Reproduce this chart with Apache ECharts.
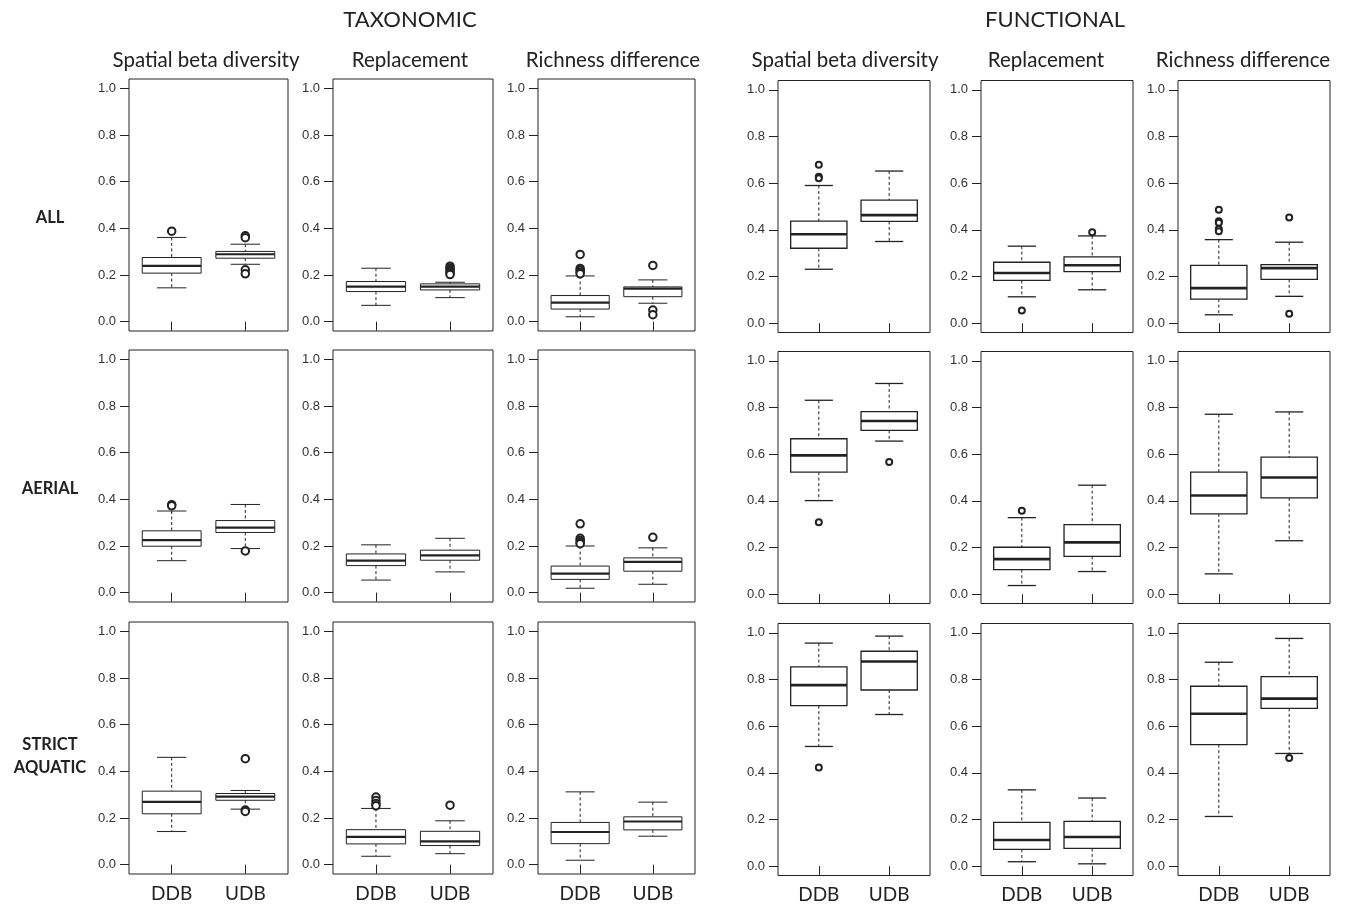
<!DOCTYPE html>
<html><head><meta charset="utf-8">
<script src="https://cdn.jsdelivr.net/npm/echarts@6/dist/echarts.min.js"></script>
<style>html,body{margin:0;padding:0;background:#fff}#c{width:1346px;height:913px}</style>
</head><body><div id="c"></div>
<script>
const categories = ['DDB', 'UDB'];
const yTicks = [0, 0.2, 0.4, 0.6, 0.8, 1.0];
const groupTitles = ['TAXONOMIC', 'FUNCTIONAL'];
const panelTitles = ['Spatial beta diversity', 'Replacement', 'Richness difference'];
const rowLabels = ['ALL', 'AERIAL', 'STRICT\nAQUATIC'];

// boxes: [lower whisker, Q1, median, Q3, upper whisker] for DDB, then UDB
const allTaxBeta = [[0.145, 0.208, 0.239, 0.275, 0.361], [0.246, 0.272, 0.289, 0.301, 0.332]];
const allTaxRepl = [[0.070, 0.129, 0.150, 0.172, 0.229], [0.103, 0.136, 0.150, 0.162, 0.169]];
const allTaxRich = [[0.021, 0.054, 0.082, 0.112, 0.196], [0.079, 0.107, 0.142, 0.149, 0.179]];
const allFunBeta = [[0.231, 0.321, 0.381, 0.437, 0.590], [0.350, 0.436, 0.463, 0.527, 0.652]];
const allFunRepl = [[0.113, 0.183, 0.215, 0.261, 0.330], [0.143, 0.221, 0.248, 0.284, 0.374]];
const allFunRich = [[0.036, 0.103, 0.150, 0.248, 0.358], [0.115, 0.188, 0.236, 0.251, 0.347]];

const aerTaxBeta = [[0.137, 0.199, 0.225, 0.265, 0.350], [0.189, 0.258, 0.279, 0.309, 0.378]];
const aerTaxRepl = [[0.054, 0.116, 0.137, 0.166, 0.205], [0.089, 0.139, 0.160, 0.182, 0.233]];
const aerTaxRich = [[0.019, 0.057, 0.082, 0.114, 0.200], [0.036, 0.092, 0.132, 0.149, 0.192]];
const aerFunBeta = [[0.401, 0.523, 0.595, 0.666, 0.831], [0.656, 0.702, 0.742, 0.782, 0.903]];
const aerFunRepl = [[0.037, 0.105, 0.150, 0.201, 0.328], [0.097, 0.162, 0.222, 0.298, 0.467]];
const aerFunRich = [[0.087, 0.344, 0.423, 0.523, 0.771], [0.229, 0.413, 0.500, 0.587, 0.781]];

const aquTaxBeta = [[0.142, 0.218, 0.269, 0.315, 0.460], [0.238, 0.276, 0.292, 0.305, 0.318]];
const aquTaxRepl = [[0.036, 0.089, 0.119, 0.150, 0.241], [0.047, 0.082, 0.100, 0.143, 0.188]];
const aquTaxRich = [[0.019, 0.090, 0.140, 0.181, 0.312], [0.122, 0.149, 0.185, 0.205, 0.268]];
const aquFunBeta = [[0.513, 0.688, 0.776, 0.854, 0.956], [0.650, 0.755, 0.877, 0.921, 0.986]];
const aquFunRepl = [[0.019, 0.072, 0.112, 0.188, 0.327], [0.010, 0.076, 0.125, 0.192, 0.292]];
const aquFunRich = [[0.213, 0.521, 0.653, 0.771, 0.874], [0.483, 0.676, 0.718, 0.812, 0.976]];

// outliers: [DDB values], [UDB values]
const allTaxBetaOut = [[0.388], [0.368, 0.360, 0.222, 0.205]];
const allTaxReplOut = [[], [0.238, 0.230, 0.222, 0.215, 0.208, 0.202]];
const allTaxRichOut = [[0.288, 0.228, 0.220, 0.212, 0.205], [0.241, 0.050, 0.030]];
const allFunBetaOut = [[0.679, 0.627, 0.621], []];
const allFunReplOut = [[0.054], [0.390]];
const allFunRichOut = [[0.486, 0.437, 0.430, 0.404, 0.394], [0.453, 0.040]];

const aerTaxBetaOut = [[0.377, 0.372], [0.179]];
const aerTaxReplOut = [[], []];
const aerTaxRichOut = [[0.295, 0.233, 0.224, 0.215, 0.210], [0.237]];
const aerFunBetaOut = [[0.308], [0.566]];
const aerFunReplOut = [[0.358], []];
const aerFunRichOut = [[], []];

const aquTaxBetaOut = [[], [0.454, 0.234, 0.228]];
const aquTaxReplOut = [[0.290, 0.275, 0.262, 0.252], [0.255]];
const aquTaxRichOut = [[], []];
const aquFunBetaOut = [[0.423], []];
const aquFunReplOut = [[], []];
const aquFunRichOut = [[], [0.464]];

const boxRows = [
  [allTaxBeta, allTaxRepl, allTaxRich, allFunBeta, allFunRepl, allFunRich],
  [aerTaxBeta, aerTaxRepl, aerTaxRich, aerFunBeta, aerFunRepl, aerFunRich],
  [aquTaxBeta, aquTaxRepl, aquTaxRich, aquFunBeta, aquFunRepl, aquFunRich]
];
const outRows = [
  [allTaxBetaOut, allTaxReplOut, allTaxRichOut, allFunBetaOut, allFunReplOut, allFunRichOut],
  [aerTaxBetaOut, aerTaxReplOut, aerTaxRichOut, aerFunBetaOut, aerFunReplOut, aerFunRichOut],
  [aquTaxBetaOut, aquTaxReplOut, aquTaxRichOut, aquFunBetaOut, aquFunReplOut, aquFunRichOut]
];

// layout
const colLeft = [129, 333, 538, 778, 981, 1178];
const colWidth = [159, 160, 157, 152, 152, 152];
const rowTop = [79, 350, 622];
const panelH = 252;
const ink = '#222';

function makeRender(func) {
  const lw = func ? 1.3 : 1;
  const medW = func ? 2.6 : 2.2;
  return function (params, api) {
    const x = api.value(0);
    const lo = api.coord([x, api.value(1)]);
    const q1 = api.coord([x, api.value(2)]);
    const md = api.coord([x, api.value(3)]);
    const q3 = api.coord([x, api.value(4)]);
    const hi = api.coord([x, api.value(5)]);
    const hb = api.size([0.4, 0])[0];
    const hs = api.size([0.2, 0])[0];
    const cx = lo[0];
    const solid = { stroke: ink, lineWidth: lw, fill: null };
    const dash = { stroke: ink, lineWidth: 1, lineDash: [3, 2.5], fill: null };
    return {
      type: 'group',
      children: [
        { type: 'line', shape: { x1: cx, y1: hi[1], x2: cx, y2: q3[1] }, style: dash },
        { type: 'line', shape: { x1: cx, y1: q1[1], x2: cx, y2: lo[1] }, style: dash },
        { type: 'line', shape: { x1: cx - hs, y1: hi[1], x2: cx + hs, y2: hi[1] }, style: solid },
        { type: 'line', shape: { x1: cx - hs, y1: lo[1], x2: cx + hs, y2: lo[1] }, style: solid },
        { type: 'rect', shape: { x: cx - hb, y: q3[1], width: 2 * hb, height: q1[1] - q3[1] }, style: { stroke: ink, lineWidth: lw, fill: '#fff' } },
        { type: 'line', shape: { x1: cx - hb, y1: md[1], x2: cx + hb, y2: md[1] }, style: { stroke: ink, lineWidth: medW } }
      ]
    };
  };
}

const grids = [], xAxes = [], yAxes = [], series = [];
let idx = 0;
for (let r = 0; r < 3; r++) {
  for (let c = 0; c < 6; c++) {
    const func = c >= 3;
    grids.push({
      left: colLeft[c], top: rowTop[r] + (func ? 1.5 : 0), width: colWidth[c], height: panelH,
      show: true, borderColor: ink, borderWidth: 1, backgroundColor: 'transparent', containLabel: false
    });
    xAxes.push({
      gridIndex: idx, type: 'value', min: 0.42, max: 2.58,
      axisLine: { show: false }, splitLine: { show: false },
      axisTick: { show: true, length: 9, customValues: [1, 2], lineStyle: { color: ink, width: 1 } },
      axisLabel: {
        show: r === 2, customValues: [1, 2], margin: 10,
        formatter: v => categories[Math.round(v) - 1] || '',
        fontSize: 19, fontFamily: 'Lato', color: ink
      }
    });
    yAxes.push({
      gridIndex: idx, type: 'value', min: -0.04, max: 1.04,
      axisLine: { show: false }, splitLine: { show: false },
      axisTick: { show: true, length: 9, customValues: yTicks, lineStyle: { color: ink, width: 1 } },
      axisLabel: {
        customValues: yTicks, margin: 13, formatter: v => v.toFixed(1),
        fontSize: 13, fontFamily: 'Liberation Sans', color: '#333'
      }
    });
    const box = boxRows[r][c];
    series.push({
      type: 'custom', xAxisIndex: idx, yAxisIndex: idx, silent: true, clip: false,
      renderItem: makeRender(func),
      data: box.map((b, k) => [k + 1].concat(b))
    });
    const out = outRows[r][c];
    const pts = [];
    out.forEach((arr, k) => arr.forEach(v => pts.push([k + 1, v])));
    series.push({
      type: 'scatter', xAxisIndex: idx, yAxisIndex: idx, silent: true,
      symbol: 'emptyCircle', symbolSize: func ? 6 : 7.5, z: 5,
      itemStyle: { color: ink, borderColor: ink, borderWidth: 1.2, opacity: 1 },
      data: pts
    });
    idx++;
  }
}

const hdrFont = 'Lato, "Open Sans", sans-serif';
const graphics = [];
const groupX = [410, 1055];
groupTitles.forEach((t, g) => graphics.push({
  type: 'text', x: groupX[g], y: 20,
  style: { text: t, fontSize: 22, fontFamily: hdrFont, fill: ink, textAlign: 'center', textVerticalAlign: 'middle' }
}));
const titleX = [206, 410, 613, 845, 1046, 1243];
titleX.forEach((x, c) => graphics.push({
  type: 'text', x: x, y: 60,
  style: { text: panelTitles[c % 3], fontSize: 20.5, fontFamily: hdrFont, fill: ink, textAlign: 'center', textVerticalAlign: 'middle' }
}));
const rowLabelY = [218, 489, 756];
rowLabels.forEach((t, r) => graphics.push({
  type: 'text', x: 50, y: rowLabelY[r],
  style: { text: t, fontSize: 16.5, fontWeight: 'bold', lineHeight: 23, fontFamily: hdrFont, fill: ink, textAlign: 'center', textVerticalAlign: 'middle' }
}));

const chart = echarts.init(document.getElementById('c'), null, { renderer: 'canvas' });
chart.setOption({
  animation: false,
  backgroundColor: '#fff',
  grid: grids, xAxis: xAxes, yAxis: yAxes, series: series,
  graphic: graphics
});
</script></body></html>
